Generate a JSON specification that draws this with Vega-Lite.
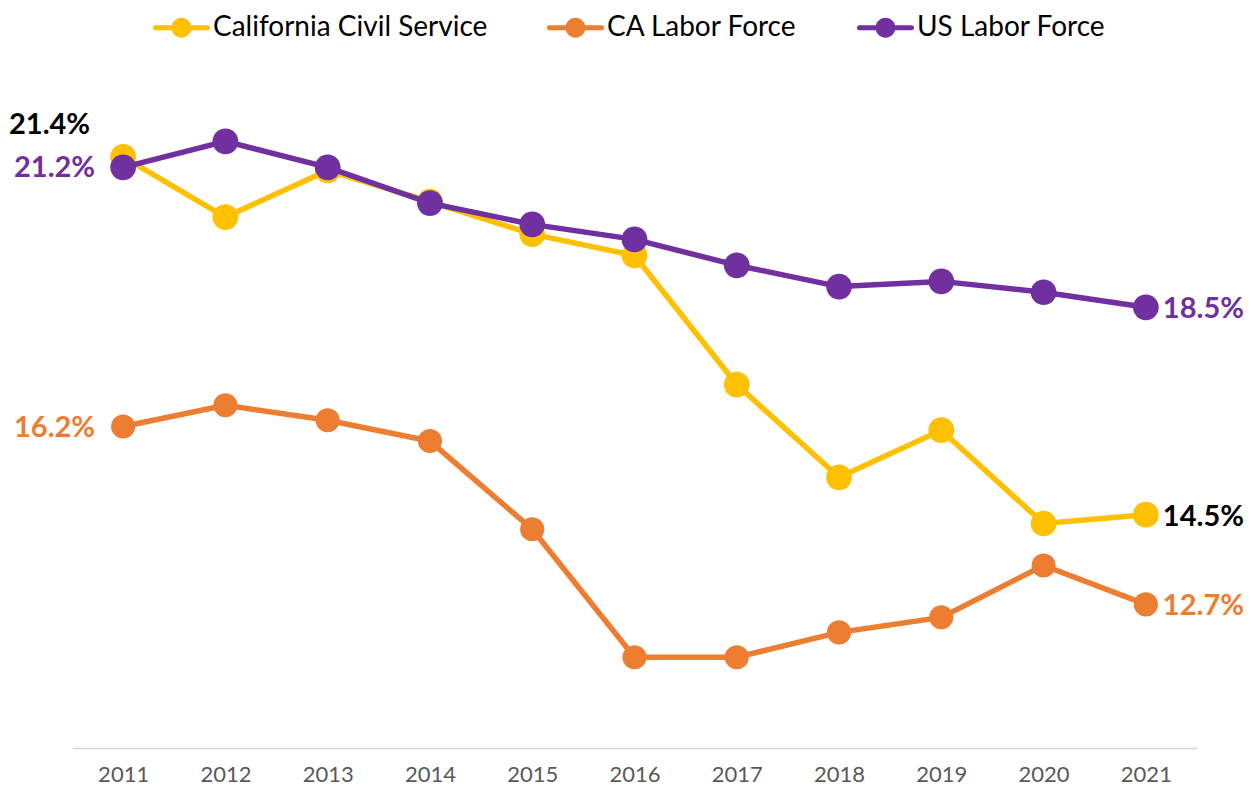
{
  "$schema": "https://vega.github.io/schema/vega-lite/v6.json",
  "width": 1125,
  "height": 674,
  "autosize": {"type": "none"},
  "padding": {"left": 72, "top": 74, "right": 54, "bottom": 47},
  "background": "white",
  "config": {
    "view": {"stroke": null},
    "font": "Lato"
  },
  "data": {
    "values": [
      {"year": "2011", "series": "California Civil Service", "value": 21.4, "label": "21.4%"},
      {"year": "2012", "series": "California Civil Service", "value": 20.24},
      {"year": "2013", "series": "California Civil Service", "value": 21.14},
      {"year": "2014", "series": "California Civil Service", "value": 20.54},
      {"year": "2015", "series": "California Civil Service", "value": 19.91},
      {"year": "2016", "series": "California Civil Service", "value": 19.5},
      {"year": "2017", "series": "California Civil Service", "value": 17.01},
      {"year": "2018", "series": "California Civil Service", "value": 15.22},
      {"year": "2019", "series": "California Civil Service", "value": 16.13},
      {"year": "2020", "series": "California Civil Service", "value": 14.33},
      {"year": "2021", "series": "California Civil Service", "value": 14.5, "label": "14.5%"},
      {"year": "2011", "series": "CA Labor Force", "value": 16.2, "label": "16.2%"},
      {"year": "2012", "series": "CA Labor Force", "value": 16.61},
      {"year": "2013", "series": "CA Labor Force", "value": 16.32},
      {"year": "2014", "series": "CA Labor Force", "value": 15.92},
      {"year": "2015", "series": "CA Labor Force", "value": 14.22},
      {"year": "2016", "series": "CA Labor Force", "value": 11.75},
      {"year": "2017", "series": "CA Labor Force", "value": 11.75},
      {"year": "2018", "series": "CA Labor Force", "value": 12.23},
      {"year": "2019", "series": "CA Labor Force", "value": 12.52},
      {"year": "2020", "series": "CA Labor Force", "value": 13.52},
      {"year": "2021", "series": "CA Labor Force", "value": 12.77, "label": "12.7%"},
      {"year": "2011", "series": "US Labor Force", "value": 21.2, "label": "21.2%"},
      {"year": "2012", "series": "US Labor Force", "value": 21.7},
      {"year": "2013", "series": "US Labor Force", "value": 21.2},
      {"year": "2014", "series": "US Labor Force", "value": 20.51},
      {"year": "2015", "series": "US Labor Force", "value": 20.1},
      {"year": "2016", "series": "US Labor Force", "value": 19.81},
      {"year": "2017", "series": "US Labor Force", "value": 19.31},
      {"year": "2018", "series": "US Labor Force", "value": 18.9},
      {"year": "2019", "series": "US Labor Force", "value": 19.0},
      {"year": "2020", "series": "US Labor Force", "value": 18.79},
      {"year": "2021", "series": "US Labor Force", "value": 18.5, "label": "18.5%"}
    ]
  },
  "encoding": {
    "x": {
      "field": "year",
      "type": "ordinal",
      "scale": {"type": "point", "padding": 0.5},
      "axis": {
        "title": null,
        "labelAngle": 0,
        "ticks": false,
        "domainColor": "#d9d9d9",
        "domainWidth": 1.5,
        "labelFont": "Lato",
        "labelFontSize": 22,
        "labelColor": "#595959",
        "labelPadding": 16,
        "grid": false
      }
    },
    "y": {
      "field": "value",
      "type": "quantitative",
      "scale": {"domain": [10, 23], "nice": false, "zero": false},
      "axis": null
    }
  },
  "layer": [
    {
      "transform": [{"filter": "datum.series === 'CA Labor Force'"}],
      "mark": {"type": "line", "color": "#ED7D31", "strokeWidth": 5.5}
    },
    {
      "transform": [{"filter": "datum.series === 'CA Labor Force'"}],
      "mark": {"type": "point", "filled": true, "opacity": 1, "size": 580},
      "encoding": {
        "fill": {
          "field": "series",
          "type": "nominal",
          "scale": {"domain": ["California Civil Service", "CA Labor Force", "US Labor Force"], "range": ["#FFC000", "#ED7D31", "#7030A0"]},
          "sort": null,
          "legend": {
            "orient": "none",
            "legendX": 82,
            "legendY": -74,
            "direction": "horizontal",
            "title": null,
            "labelFont": "Lato",
            "labelFontSize": 28,
            "labelColor": "#000000",
            "labelLimit": 0,
            "labelOffset": 4,
            "columnPadding": 58,
            "symbolSize": 3025,
            "symbolStrokeWidth": 0,
            "symbolOpacity": 1,
            "symbolType": "M-0.95,-0.09L0.95,-0.09A0.09,0.09,0,0,1,0.95,0.09L-0.95,0.09A0.09,0.09,0,0,1,-0.95,-0.09Z M-0.36,0A0.36,0.36,0,1,1,0.36,0A0.36,0.36,0,1,1,-0.36,0Z"
          }
        }
      }
    },
    {
      "transform": [{"filter": "datum.series === 'California Civil Service'"}],
      "mark": {"type": "line", "color": "#FFC000", "strokeWidth": 5.5}
    },
    {
      "transform": [{"filter": "datum.series === 'California Civil Service'"}],
      "mark": {"type": "point", "filled": true, "opacity": 1, "size": 660},
      "encoding": {
        "fill": {"field": "series", "type": "nominal", "sort": null}
      }
    },
    {
      "transform": [{"filter": "datum.series === 'US Labor Force'"}],
      "mark": {"type": "line", "color": "#7030A0", "strokeWidth": 5.5}
    },
    {
      "transform": [{"filter": "datum.series === 'US Labor Force'"}],
      "mark": {"type": "point", "filled": true, "opacity": 1, "size": 660},
      "encoding": {
        "fill": {"field": "series", "type": "nominal", "sort": null}
      }
    },
    {
      "transform": [{"filter": "datum.year === '2011' && datum.series !== 'California Civil Service'"}],
      "mark": {"type": "text", "align": "right", "baseline": "middle", "dx": -28, "dy": 1, "fontSize": 29, "fontWeight": "bold", "font": "Lato"},
      "encoding": {
        "text": {"field": "label"},
        "color": {
          "field": "series",
          "type": "nominal",
          "scale": {"domain": ["California Civil Service", "CA Labor Force", "US Labor Force"], "range": ["#000000", "#ED7D31", "#7030A0"]},
          "legend": null
        }
      }
    },
    {
      "transform": [{"filter": "datum.year === '2011' && datum.series === 'California Civil Service'"}],
      "mark": {"type": "text", "align": "right", "baseline": "middle", "dx": -33, "dy": -32, "fontSize": 29, "fontWeight": "bold", "font": "Lato"},
      "encoding": {
        "text": {"field": "label"},
        "color": {"field": "series", "type": "nominal", "legend": null}
      }
    },
    {
      "transform": [{"filter": "datum.year === '2021'"}],
      "mark": {"type": "text", "align": "left", "baseline": "middle", "dx": 17, "dy": 2, "fontSize": 29, "fontWeight": "bold", "font": "Lato"},
      "encoding": {
        "text": {"field": "label"},
        "color": {"field": "series", "type": "nominal", "legend": null}
      }
    }
  ]
}
